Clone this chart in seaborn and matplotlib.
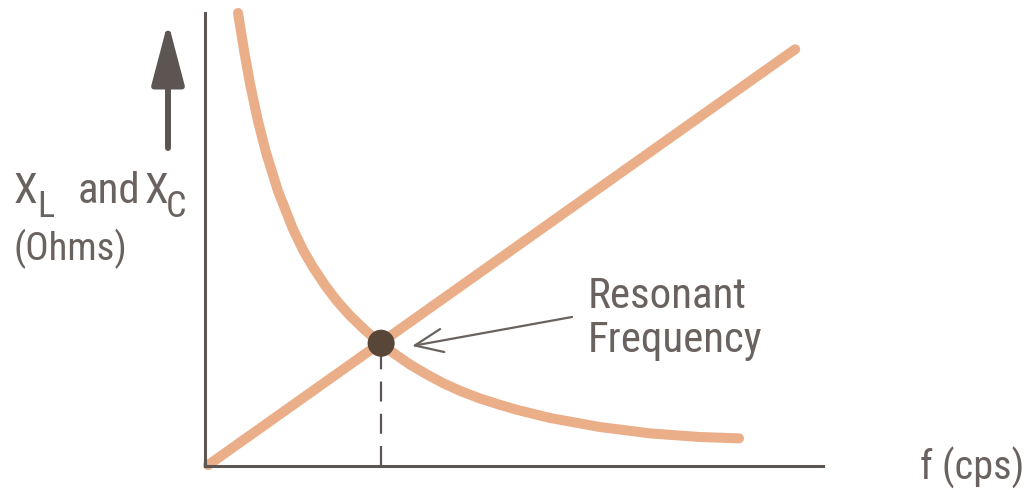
import matplotlib
matplotlib.use("Agg")
import matplotlib.pyplot as plt
from matplotlib import font_manager
import seaborn as sns

# Inductive reactance: straight line rising with frequency
f_inductive = [0.05, 9.55]
xl_values = [0.02, 9.20]

# Capacitive reactance: falls off with frequency
f_capacitive = [0.534, 0.631, 0.728, 0.858, 0.987, 1.181, 1.424, 1.586, 1.748,
                1.942, 2.136, 2.346, 2.589, 2.848, 3.074, 3.317, 3.592, 3.851,
                4.126, 4.450, 4.773, 5.049, 5.583, 6.392, 7.201, 8.010, 8.641]
xc_values = [10.00, 9.18, 8.44, 7.61, 6.92, 6.07, 5.23, 4.77, 4.39,
             3.99, 3.64, 3.32, 3.00, 2.70, 2.47, 2.24, 2.02, 1.83,
             1.66, 1.49, 1.35, 1.24, 1.06, 0.86, 0.72, 0.64, 0.61]

# Crossing point of the two reactances
f_resonant = 2.85
x_resonant = 2.71

axis_title_main = "and"
axis_title_units = "(Ohms)"
x_axis_title = "f (cps)"
callout_lines = ["Resonant", "Frequency"]

CURVE = "#EAAE89"
INK = "#5C5552"
TEXT = "#6A625E"
DOT = "#584638"

sns.set_theme(style="white")
installed = {f.name for f in font_manager.fontManager.ttflist}
family = "DejaVu Sans"
for cand in ["Liberation Sans Narrow", "Roboto Condensed", "Open Sans Condensed",
             "Roboto", "Liberation Sans"]:
    if cand in installed:
        family = cand
        break
plt.rcParams["font.family"] = [family, "DejaVu Sans"]

W, H = 1027, 490
fig = plt.figure(figsize=(W / 100, H / 100), dpi=100)
fig.patch.set_facecolor("white")
ax = fig.add_axes([205 / W, 24 / H, 618 / W, 453 / H])
ax.set_facecolor("white")

line_kw = dict(estimator=None, sort=False, ax=ax, color=CURVE, lw=7.2,
               solid_capstyle="round", solid_joinstyle="round",
               clip_on=False, zorder=2)
sns.lineplot(x=f_capacitive, y=xc_values, **line_kw)
sns.lineplot(x=f_inductive, y=xl_values, **line_kw)

# Dashed drop line from the resonance point to the frequency axis
ax.plot([f_resonant, f_resonant], [0, x_resonant], color=INK, lw=1.6,
        dashes=(9, 5.5), zorder=1, clip_on=False)
sns.scatterplot(x=[f_resonant], y=[x_resonant], ax=ax, s=380, color=DOT,
                edgecolor="none", zorder=4, clip_on=False)

ax.set_xlim(0, 10)
ax.set_ylim(0, 10)
ax.set_xticks([])
ax.set_yticks([])
ax.set_xlabel("")
ax.set_ylabel("")
sns.despine(ax=ax)
for side in ("left", "bottom"):
    ax.spines[side].set_color(INK)
    ax.spines[side].set_linewidth(2.2)


def ftext(x, y, s, size):
    fig.text(x / W, 1 - y / H, s, fontsize=size, color=TEXT,
             ha="left", va="baseline")


# Vertical axis label built from pieces so the subscripts stay large
ftext(14, 203, "X", 31)
ftext(37, 217, "L", 26)
ftext(78, 203, axis_title_main, 31)
ftext(145, 203, "X", 31)
ftext(166, 217, "C", 26)
ftext(14, 260, axis_title_units, 28)

# Upward arrow beside the vertical axis label
ax.annotate("", xy=(168, H - 22), xytext=(168, H - 148),
            xycoords="figure pixels", textcoords="figure pixels",
            arrowprops=dict(arrowstyle="-|>,head_length=38,head_width=10",
                            mutation_scale=1, color=INK, lw=4.3,
                            shrinkA=0, shrinkB=0))

ftext(920, 480, x_axis_title, 29)

ftext(588, 308, callout_lines[0], 31)
ftext(588, 352, callout_lines[1], 31)
ax.annotate("", xy=(412, H - 346), xytext=(572, H - 317),
            xycoords="figure pixels", textcoords="figure pixels",
            arrowprops=dict(arrowstyle="->,head_length=20,head_width=8.4",
                            mutation_scale=1, color=TEXT, lw=1.6,
                            shrinkA=0, shrinkB=0))

fig.savefig("out.png", dpi=100, facecolor="white")
